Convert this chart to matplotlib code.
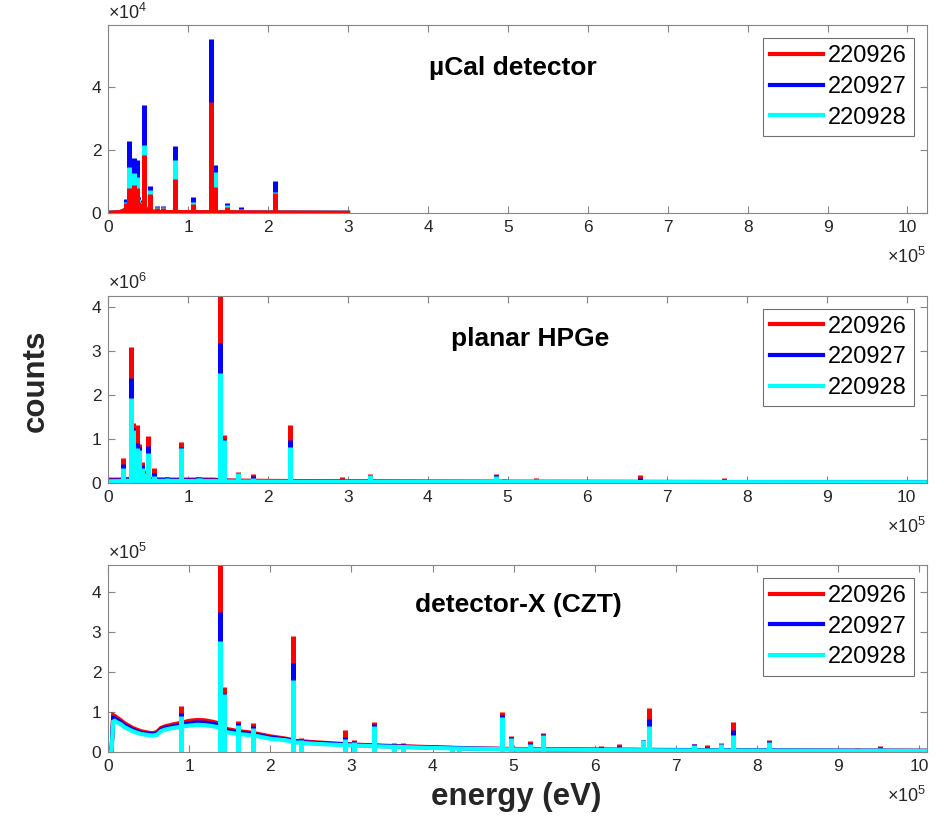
import matplotlib
matplotlib.use("Agg")
import matplotlib.pyplot as plt
from matplotlib.lines import Line2D
from matplotlib.ticker import FuncFormatter

plt.rcParams["font.family"] = ["Liberation Sans", "DejaVu Sans"]
plt.rcParams["mathtext.fontset"] = "custom"
plt.rcParams["mathtext.rm"] = "Liberation Sans"

RUNS = ["220926", "220927", "220928"]
COLORS = {"220926": "#ff0000", "220927": "#0000ff", "220928": "#00ffff"}

# ---- µCal detector (energy in 1e5 eV, counts in 1e4) ----
ucal_base_e = [0.0, 0.15, 0.22, 0.25, 0.45, 0.5, 0.6, 1.0, 2.0, 3.0]
ucal_base = {
    "220926": [0.0, 0.02, 0.1, 0.2, 0.15, 0.05, 0.02, 0.02, 0.01, 0.0],
    "220927": [0.0, 0.02, 0.1, 0.25, 0.2, 0.06, 0.02, 0.02, 0.01, 0.0],
    "220928": [0.0, 0.02, 0.1, 0.22, 0.18, 0.05, 0.02, 0.02, 0.01, 0.0],
}
ucal_peak_e = [0.22, 0.255, 0.265, 0.29, 0.325, 0.354, 0.375, 0.396, 0.42,
               0.45, 0.525, 0.61, 0.69, 0.75, 0.833, 0.95, 1.06, 1.2, 1.29,
               1.333, 1.49, 1.66, 1.86, 2.09, 2.69]
ucal_peaks = {
    "220926": [0.3, 0.8, 0.6, 0.4, 0.88, 0.77, 0.35, 0.3, 0.25, 1.83, 0.59,
               0.14, 0.14, 0.06, 1.07, 0.06, 0.28, 0.06, 3.52, 0.83, 0.17,
               0.1, 0.04, 0.63, 0.04],
    "220927": [0.43, 2.29, 1.2, 0.6, 1.75, 1.67, 0.5, 0.4, 0.3, 3.43, 0.86,
               0.22, 0.22, 0.1, 2.12, 0.1, 0.49, 0.1, 5.53, 1.53, 0.3, 0.17,
               0.06, 1.0, 0.05],
    "220928": [0.35, 1.46, 0.9, 0.5, 1.25, 1.14, 0.45, 0.35, 0.28, 2.15, 0.72,
               0.18, 0.18, 0.08, 1.67, 0.08, 0.35, 0.08, 3.4, 1.3, 0.24, 0.13,
               0.05, 0.67, 0.04],
}

# ---- planar HPGe (energy in 1e5 eV, counts in 1e6) ----
hpge_base_e = [0.0, 0.15, 0.3, 0.5, 0.8, 1.0, 1.3, 1.5, 2.0, 2.5, 3.0, 4.0,
               5.0, 6.0, 8.0, 10.25]
hpge_base = {
    "220926": [0.07, 0.07, 0.09, 0.08, 0.07, 0.07, 0.07, 0.05, 0.04, 0.035,
               0.03, 0.025, 0.02, 0.02, 0.015, 0.015],
    "220927": [0.05, 0.05, 0.07, 0.06, 0.055, 0.05, 0.05, 0.04, 0.03, 0.028,
               0.025, 0.02, 0.018, 0.016, 0.013, 0.012],
    "220928": [0.03, 0.035, 0.05, 0.04, 0.04, 0.035, 0.035, 0.03, 0.025,
               0.022, 0.02, 0.018, 0.015, 0.014, 0.012, 0.01],
}
hpge_peak_e = [0.19, 0.283, 0.31, 0.335, 0.358, 0.39, 0.425, 0.455, 0.50,
               0.575, 0.74, 0.908, 1.12, 1.15, 1.396, 1.45, 1.62, 1.81, 2.275,
               2.925, 3.275, 4.86, 4.96, 5.22, 5.36, 6.66, 7.71, 8.15]
hpge_peaks = {
    "220926": [0.57, 3.08, 1.35, 0.9, 1.3, 0.89, 0.48, 0.29, 1.07, 0.34, 0.14,
               0.93, 0.14, 0.13, 4.4, 1.08, 0.25, 0.2, 1.3, 0.13, 0.19, 0.2,
               0.09, 0.06, 0.1, 0.17, 0.1, 0.05],
    "220927": [0.42, 2.37, 1.25, 0.8, 0.91, 0.8, 0.4, 0.25, 0.83, 0.21, 0.12,
               0.82, 0.12, 0.11, 3.18, 1.0, 0.22, 0.15, 0.98, 0.08, 0.18, 0.17,
               0.08, 0.04, 0.08, 0.11, 0.065, 0.035],
    "220928": [0.33, 1.92, 1.2, 0.75, 0.78, 0.74, 0.33, 0.22, 0.68, 0.15, 0.1,
               0.78, 0.1, 0.1, 2.5, 0.97, 0.21, 0.1, 0.82, 0.05, 0.17, 0.16,
               0.08, 0.03, 0.08, 0.06, 0.03, 0.03],
}

# ---- detector-X CZT (energy in 1e5 eV, counts in 1e5) ----
czt_base_e = [0.0, 0.04, 0.06, 0.08, 0.1, 0.15, 0.2, 0.3, 0.4, 0.5, 0.55,
              0.6, 0.65, 0.7, 0.8, 0.9, 1.0, 1.1, 1.2, 1.3, 1.36, 1.45, 1.5,
              1.6, 1.7, 1.8, 2.0, 2.2, 2.3, 2.5, 2.8, 3.0, 3.2, 3.5, 4.0, 4.5,
              5.0, 6.0, 7.0, 8.0, 9.0, 10.1]
czt_base = {
    "220926": [0, 0, 0.92, 0.9, 0.87, 0.8, 0.72, 0.6, 0.52, 0.48, 0.47, 0.5,
               0.6, 0.64, 0.69, 0.73, 0.78, 0.8, 0.79, 0.75, 0.72, 0.58, 0.56,
               0.52, 0.5, 0.47, 0.39, 0.33, 0.28, 0.25, 0.21, 0.19, 0.17, 0.15,
               0.12, 0.09, 0.075, 0.06, 0.05, 0.04, 0.035, 0.03],
    "220927": [0, 0, 0.85, 0.84, 0.81, 0.75, 0.67, 0.56, 0.48, 0.45, 0.44,
               0.46, 0.56, 0.6, 0.64, 0.68, 0.72, 0.74, 0.73, 0.7, 0.67, 0.54,
               0.52, 0.49, 0.47, 0.44, 0.36, 0.31, 0.26, 0.23, 0.2, 0.18, 0.16,
               0.14, 0.11, 0.085, 0.07, 0.055, 0.045, 0.038, 0.032, 0.028],
    "220928": [0, 0, 0.76, 0.78, 0.75, 0.7, 0.62, 0.52, 0.45, 0.42, 0.41,
               0.43, 0.52, 0.56, 0.6, 0.63, 0.66, 0.68, 0.67, 0.64, 0.62, 0.5,
               0.48, 0.45, 0.43, 0.41, 0.33, 0.29, 0.24, 0.21, 0.18, 0.165,
               0.15, 0.13, 0.1, 0.08, 0.065, 0.05, 0.04, 0.035, 0.03, 0.025],
}
czt_peak_e = [0.9, 1.375, 1.43, 1.6, 1.79, 2.28, 2.38, 2.92, 3.03, 3.28,
              3.52, 3.64, 4.24, 4.32, 4.86, 4.97, 5.2, 5.36, 6.08, 6.3, 6.6,
              6.67, 7.23, 7.39, 7.56, 7.71, 8.15, 8.66, 9.09, 9.23, 9.52]
czt_peaks = {
    "220926": [1.16, 4.8, 1.63, 0.78, 0.72, 2.9, 0.35, 0.55, 0.3, 0.76, 0.23,
               0.23, 0.12, 0.12, 1.0, 0.4, 0.28, 0.47, 0.14, 0.21, 0.3, 1.1,
               0.2, 0.17, 0.22, 0.74, 0.31, 0.05, 0.05, 0.1, 0.16],
    "220927": [0.97, 3.51, 1.47, 0.72, 0.65, 2.22, 0.32, 0.37, 0.27, 0.7,
               0.2, 0.2, 0.1, 0.1, 0.92, 0.37, 0.23, 0.44, 0.12, 0.16, 0.3,
               0.83, 0.19, 0.12, 0.21, 0.56, 0.28, 0.05, 0.05, 0.08, 0.12],
    "220928": [0.9, 2.78, 1.45, 0.67, 0.59, 1.8, 0.3, 0.32, 0.25, 0.65, 0.18,
               0.18, 0.09, 0.09, 0.87, 0.34, 0.2, 0.42, 0.1, 0.12, 0.29, 0.66,
               0.18, 0.08, 0.2, 0.43, 0.24, 0.04, 0.04, 0.07, 0.1],
}

E_UNIT = 1e5
AX_GRAY = "#858585"
TXT = "#262626"
TICK_FONT = ["Liberation Sans Narrow", "Liberation Sans", "DejaVu Sans"]

PANELS = [
    dict(title="µCal detector", base_e=ucal_base_e, base=ucal_base,
         peak_e=ucal_peak_e, peaks=ucal_peaks, scale=1e4, exp=4,
         order=["220927", "220928", "220926"], ylim=5.96, yticks=[0, 2, 4],
         xmax=10.24, rect=[0.1146, 0.7412, 0.866, 0.2283],
         tpos=(0.4945, 0.7336)),
    dict(title="planar HPGe", base_e=hpge_base_e, base=hpge_base,
         peak_e=hpge_peak_e, peaks=hpge_peaks, scale=1e6, exp=6,
         order=["220926", "220927", "220928"], ylim=4.25,
         yticks=[0, 1, 2, 3, 4], xmax=10.25,
         rect=[0.1146, 0.4128, 0.866, 0.2275], tpos=(0.515, 0.731)),
    dict(title="detector-X (CZT)", base_e=czt_base_e, base=czt_base,
         peak_e=czt_peak_e, peaks=czt_peaks, scale=1e5, exp=5,
         order=["220926", "220927", "220928"], ylim=4.68,
         yticks=[0, 1, 2, 3, 4], xmax=10.095,
         rect=[0.1146, 0.0852, 0.866, 0.2275], tpos=(0.501, 0.750)),
]

fig = plt.figure(figsize=(9.45, 8.22), dpi=100)

for p in PANELS:
    ax = fig.add_axes(p["rect"])
    sc = p["scale"]
    for run in p["order"]:
        c = COLORS[run]
        ax.plot([e * E_UNIT for e in p["base_e"]],
                [v * sc for v in p["base"][run]],
                color=c, lw=3, solid_joinstyle="miter", zorder=2)
        ax.vlines([e * E_UNIT for e in p["peak_e"]], 0,
                  [v * sc for v in p["peaks"][run]],
                  color=c, lw=3.6, zorder=2)

    ax.set_xlim(0, p["xmax"] * E_UNIT)
    ax.set_ylim(0, p["ylim"] * sc)
    ax.set_xticks([i * E_UNIT for i in range(11)])
    ax.set_yticks([t * sc for t in p["yticks"]])
    ax.xaxis.set_major_formatter(FuncFormatter(lambda v, _: f"{v / E_UNIT:g}"))
    ax.yaxis.set_major_formatter(
        FuncFormatter(lambda v, _, s=sc: f"{v / s:g}"))
    ax.tick_params(direction="in", top=True, right=True, length=5,
                   width=0.8, color=AX_GRAY, labelcolor=TXT, labelsize=12.5,
                   pad=5)
    for lab in ax.get_xticklabels() + ax.get_yticklabels():
        lab.set_family(TICK_FONT)
    for sp in ax.spines.values():
        sp.set_color(AX_GRAY)
        sp.set_linewidth(0.8)

    ax.text(p["tpos"][0], p["tpos"][1], p["title"], transform=ax.transAxes,
            ha="center", va="baseline", fontsize=19, fontweight="bold",
            color="black")
    ax.text(0.0, 1.012, "×10$^{%d}$" % p["exp"], transform=ax.transAxes,
            ha="left", va="bottom", fontsize=13, color=TXT,
            family=TICK_FONT)
    ax.text(1.0, -0.235, "×10$^{5}$", transform=ax.transAxes,
            ha="right", va="center", fontsize=13, color=TXT,
            family=TICK_FONT)

    handles = [Line2D([], [], color=COLORS[r], lw=3) for r in RUNS]
    leg = ax.legend(handles, RUNS, loc="upper right",
                    bbox_to_anchor=(0.984, 0.931), borderaxespad=0,
                    fontsize=17, handlelength=2.25, handletextpad=0.2,
                    labelspacing=0.37, borderpad=0.3, fancybox=False,
                    framealpha=1, edgecolor="#707070")
    leg.get_frame().set_linewidth(0.8)

fig.text(36 / 945, 1 - 381 / 822, "counts", rotation=90, ha="center",
         va="center", fontsize=22.5, fontweight="bold", color=TXT)
fig.text(516 / 945, 1 - 797 / 822, "energy (eV)", ha="center", va="center",
         fontsize=22.5, fontweight="bold", color=TXT)

fig.savefig("out.png", dpi=100)
